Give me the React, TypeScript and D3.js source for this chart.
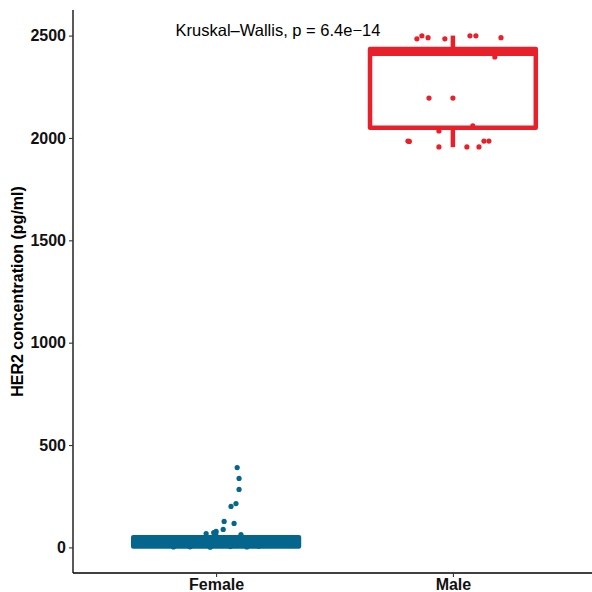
import React, { useEffect, useRef } from "react";
import * as d3 from "d3";

// groups and their colours
const groups = ["Female", "Male"];
const colors = ["#05668D", "#E8202A"];

// box statistics: [low whisker, q1, median, q3, high whisker]
const femaleStats = [0, 5, 27, 50, 80];
const maleStats = [1955, 2050, 2415, 2435, 2500];

// jittered points: value and horizontal jitter (in category units)
const femaleValues = [390, 337, 283, 214, 200, 127, 117, 88, 78, 72, 68, 63, 2, 3, 1, 4, 2, 10, 15, 20, 25, 30, 35, 40, 12, 18, 28, 33, 6, 44];
const femaleJitter = [0.089, 0.097, 0.097, 0.084, 0.063, 0.034, 0.076, 0.03, 0.0, -0.01, -0.042, 0.105, -0.18, -0.11, -0.025, 0.06, 0.13, -0.3, -0.25, -0.2, -0.15, -0.1, -0.05, 0.05, 0.15, 0.2, 0.25, 0.3, 0.18, -0.28];
const maleValues = [2484, 2499, 2490, 2484, 2499, 2499, 2490, 2396, 2195, 2195, 2034, 2059, 1985, 1983, 1956, 1956, 1956, 1985, 1985];
const maleJitter = [-0.152, -0.131, -0.105, -0.034, 0.072, 0.097, 0.203, 0.177, -0.101, 0.0, -0.059, 0.084, -0.19, -0.184, -0.059, 0.059, 0.11, 0.131, 0.152];

const yTicks = [0, 500, 1000, 1500, 2000, 2500];

const font = "Liberation Sans, Arial, sans-serif";

const HerChart = () => {
  const ref = useRef<SVGSVGElement>(null);

  useEffect(() => {
    const width = 592;
    const height = 592;
    const margin = { top: 10, right: 0, bottom: 19, left: 74 };

    const svg = d3.select(ref.current).attr("width", width).attr("height", height);
    svg.selectAll("*").remove();

    const x = d3
      .scalePoint()
      .domain(groups)
      .range([margin.left, 595])
      .padding(0.6);
    const step = x.step();

    const y = d3
      .scaleLinear()
      .domain([-125, 2625])
      .range([height - margin.bottom, margin.top]);

    const boxes = [
      { name: "Female", stats: femaleStats, color: colors[0], values: femaleValues, jitter: femaleJitter },
      { name: "Male", stats: maleStats, color: colors[1], values: maleValues, jitter: maleJitter },
    ];

    const boxW = 0.7 * step;
    const sw = 4.5;

    boxes.forEach((b) => {
      const cx = x(b.name) as number;
      const [lo, q1, med, q3, hi] = b.stats;
      const g = svg.append("g");
      // whiskers
      g.append("line")
        .attr("x1", cx).attr("x2", cx)
        .attr("y1", y(q3)).attr("y2", y(hi))
        .attr("stroke", b.color).attr("stroke-width", sw);
      g.append("line")
        .attr("x1", cx).attr("x2", cx)
        .attr("y1", y(q1)).attr("y2", y(lo))
        .attr("stroke", b.color).attr("stroke-width", sw);
      // box
      g.append("rect")
        .attr("x", cx - boxW / 2)
        .attr("y", y(q3))
        .attr("width", boxW)
        .attr("height", y(q1) - y(q3))
        .attr("fill", "white")
        .attr("stroke", b.color)
        .attr("stroke-width", sw)
        .attr("stroke-linejoin", "round");
      // median
      g.append("line")
        .attr("x1", cx - boxW / 2).attr("x2", cx + boxW / 2)
        .attr("y1", y(med)).attr("y2", y(med))
        .attr("stroke", b.color).attr("stroke-width", 6);
      // jittered points
      g.selectAll("circle")
        .data(b.values)
        .join("circle")
        .attr("cx", (d, i) => cx + b.jitter[i] * step)
        .attr("cy", (d) => y(d))
        .attr("r", 2.6)
        .attr("fill", b.color);
    });

    // y axis
    const yAxis = svg
      .append("g")
      .attr("transform", `translate(${margin.left - 1},0)`)
      .call(d3.axisLeft(y).tickValues(yTicks).tickFormat(d3.format("d")).tickSize(4).tickPadding(3));
    yAxis.select(".domain").attr("stroke", "#000").attr("stroke-width", 1.3)
      .attr("d", `M0,${margin.top}V${height - margin.bottom}`);
    yAxis.selectAll(".tick line").attr("stroke", "#333").attr("stroke-width", 1.1);
    yAxis.selectAll(".tick text")
      .attr("font-family", font)
      .attr("font-size", 16)
      .attr("font-weight", "bold")
      .attr("fill", "#111");

    // x axis
    const xAxis = svg
      .append("g")
      .attr("transform", `translate(0,${height - margin.bottom})`)
      .call(d3.axisBottom(x).tickSize(4).tickPadding(2));
    xAxis.select(".domain").attr("stroke", "#000").attr("stroke-width", 1.3)
      .attr("d", `M${margin.left - 1},0H${width}`);
    xAxis.selectAll(".tick line").attr("stroke", "#333").attr("stroke-width", 1.1);
    xAxis.selectAll(".tick text")
      .attr("font-family", font)
      .attr("font-size", 16)
      .attr("font-weight", "bold")
      .attr("fill", "#111");

    // y axis title
    svg.append("text")
      .attr("transform", `translate(23,${(margin.top + height - margin.bottom) / 2}) rotate(-90)`)
      .attr("text-anchor", "middle")
      .attr("font-family", font)
      .attr("font-size", 16)
      .attr("font-weight", "bold")
      .attr("fill", "#000")
      .text("HER2 concentration (pg/ml)");

    // test label
    svg.append("text")
      .attr("x", 278)
      .attr("y", 36)
      .attr("text-anchor", "middle")
      .attr("font-family", font)
      .attr("font-size", 16.5)
      .attr("fill", "#000")
      .text("Kruskal\u2013Wallis, p = 6.4e\u221214");
  }, []);

  return (
    <div style={{ position: "absolute", left: 0, top: 0 }}>
      <svg ref={ref} style={{ display: "block" }}></svg>
    </div>
  );
};

export default function App() {
  return <HerChart />;
}
